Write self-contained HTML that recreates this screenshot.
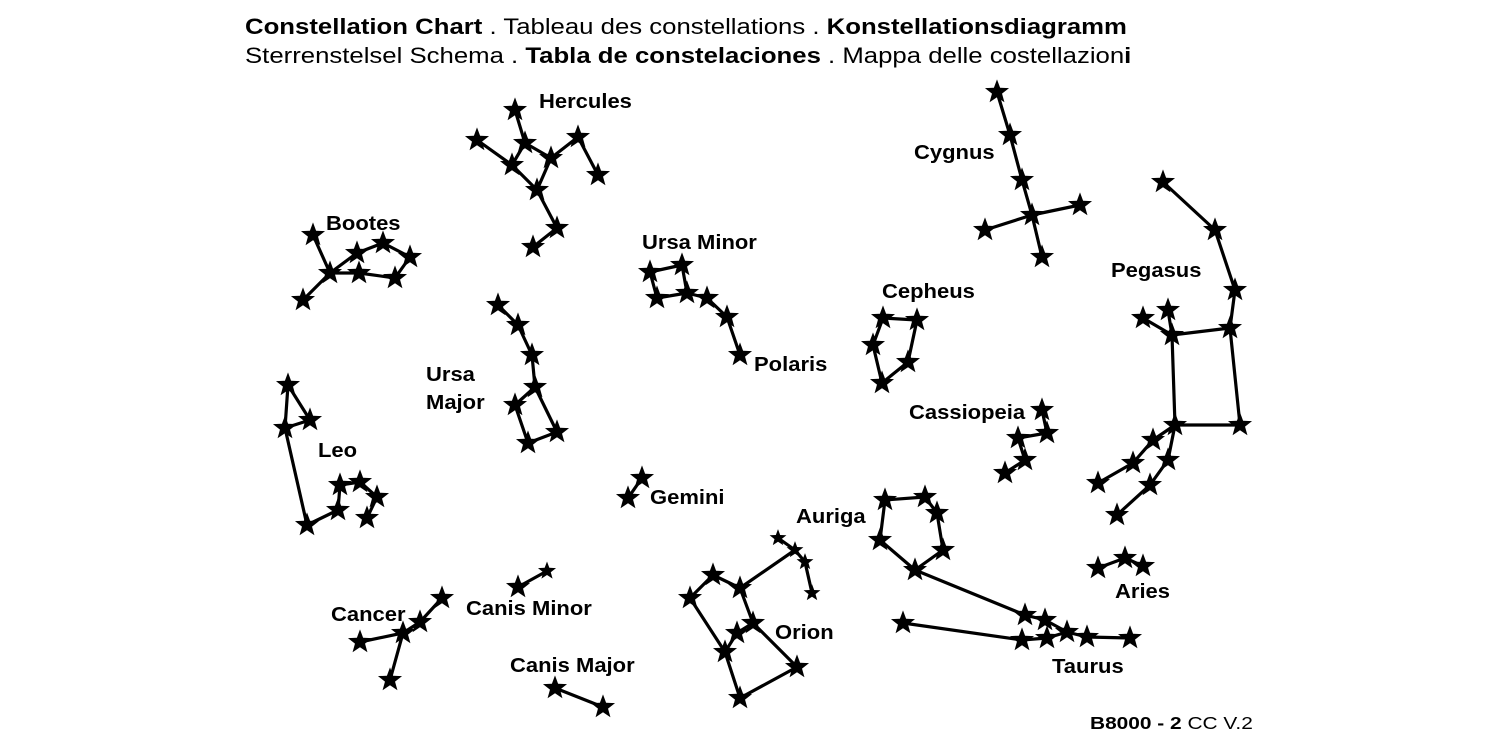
<!DOCTYPE html>
<html><head><meta charset="utf-8"><style>
html,body{margin:0;padding:0;background:#fff;}
body{width:1500px;height:750px;overflow:hidden;position:relative;font-family:"Liberation Sans",Arial,sans-serif;}
</style></head><body>
<svg width="1500" height="750" style="position:absolute;left:0;top:0" xmlns="http://www.w3.org/2000/svg">
<defs><path id="s" d="M0,-12.65 L3.1,-4.28 L12.03,-3.91 L5.03,1.63 L7.44,10.24 L0,5.29 L-7.44,10.24 L-5.03,1.63 L-12.03,-3.91 L-3.1,-4.28Z" fill="#000"/></defs>
<g font-family="Liberation Sans, Arial, sans-serif" font-size="22" fill="#000">
<text transform="translate(245 34) scale(1.17 1)"><tspan font-weight="bold">Constellation Chart</tspan> . Tableau des constellations . <tspan font-weight="bold">Konstellationsdiagramm</tspan></text>
<text transform="translate(245 63) scale(1.17 1)">Sterrenstelsel Schema . <tspan font-weight="bold">Tabla de constelaciones</tspan> . Mappa delle costellazion<tspan font-weight="bold">i</tspan></text>
</g>
<g stroke="#000" stroke-width="3.2" fill="none" stroke-linejoin="round">
<polyline points="515,110 525,143 551,158 578,137 598,175"/>
<polyline points="477,140 512,165 537,190 557,228 533,247"/>
<polyline points="525,143 512,165"/><polyline points="551,158 537,190"/>
<polyline points="313,235 330,273 357,253 383,243 410,257 395,278 359,273 330,273 303,300"/>
<polyline points="288,385 310,420 285,428 288,385"/>
<polyline points="285,428 307,525 338,510 340,485 360,482 377,497 367,518"/>
<polyline points="498,305 518,325 532,355 535,387 515,405 528,443 557,432 535,387"/>
<polyline points="650,272 682,265 687,293 657,298 650,272"/>
<polyline points="687,293 707,298 727,317 740,355"/>
<polyline points="642,478 628,498"/>
<polyline points="883,318 917,320 908,362 882,383 873,345 883,318"/>
<polyline points="1042,410 1047,433 1018,438 1025,460 1005,473"/>
<polyline points="1163,182 1215,230 1235,290 1230,328 1240,425 1175,425 1172,335 1230,328"/>
<polyline points="1168,310 1172,335 1143,318"/>
<polyline points="1175,425 1153,440 1133,463 1098,483"/>
<polyline points="1175,425 1168,460 1150,485 1117,515"/>
<polyline points="997,92 1010,135 1022,180 1032,215 1042,257"/>
<polyline points="985,230 1032,215 1080,205"/>
<polyline points="442,598 420,622 403,633 390,680"/>
<polyline points="360,642 403,633"/>
<polyline points="518,587 547,571"/>
<polyline points="555,688 603,707"/>
<polyline points="690,598 713,575 740,588 795,550"/>
<polyline points="778,538 795,550 805,562 812,593"/>
<polyline points="690,598 725,652 740,698 797,667 753,623 740,588"/>
<polyline points="725,652 737,633 753,623"/>
<polyline points="885,500 925,497 937,513 943,550 915,570 880,540 885,500"/>
<polyline points="915,570 1025,615 1045,620 1067,632"/>
<polyline points="903,623 1022,640 1047,638 1067,632 1087,637 1130,638"/>
<polyline points="1098,568 1125,558 1143,566"/>
</g>
<g>
<use href="#s" x="515" y="110"/><use href="#s" x="525" y="143"/><use href="#s" x="551" y="158"/><use href="#s" x="578" y="137"/><use href="#s" x="598" y="175"/><use href="#s" x="477" y="140"/><use href="#s" x="512" y="165"/><use href="#s" x="537" y="190"/><use href="#s" x="557" y="228"/><use href="#s" x="533" y="247"/>
<use href="#s" x="313" y="235"/><use href="#s" x="330" y="273"/><use href="#s" x="357" y="253"/><use href="#s" x="383" y="243"/><use href="#s" x="410" y="257"/><use href="#s" x="395" y="278"/><use href="#s" x="359" y="273"/><use href="#s" x="303" y="300"/>
<use href="#s" x="288" y="385"/><use href="#s" x="310" y="420"/><use href="#s" x="285" y="428"/><use href="#s" x="307" y="525"/><use href="#s" x="338" y="510"/><use href="#s" x="340" y="485"/><use href="#s" x="360" y="482"/><use href="#s" x="377" y="497"/><use href="#s" x="367" y="518"/>
<use href="#s" x="498" y="305"/><use href="#s" x="518" y="325"/><use href="#s" x="532" y="355"/><use href="#s" x="535" y="387"/><use href="#s" x="515" y="405"/><use href="#s" x="528" y="443"/><use href="#s" x="557" y="432"/>
<use href="#s" x="650" y="272"/><use href="#s" x="682" y="265"/><use href="#s" x="687" y="293"/><use href="#s" x="657" y="298"/><use href="#s" x="707" y="298"/><use href="#s" x="727" y="317"/><use href="#s" x="740" y="355"/>
<use href="#s" x="642" y="478"/><use href="#s" x="628" y="498"/>
<use href="#s" x="883" y="318"/><use href="#s" x="917" y="320"/><use href="#s" x="908" y="362"/><use href="#s" x="882" y="383"/><use href="#s" x="873" y="345"/>
<use href="#s" x="1042" y="410"/><use href="#s" x="1047" y="433"/><use href="#s" x="1018" y="438"/><use href="#s" x="1025" y="460"/><use href="#s" x="1005" y="473"/>
<use href="#s" x="1163" y="182"/><use href="#s" x="1215" y="230"/><use href="#s" x="1235" y="290"/><use href="#s" x="1230" y="328"/><use href="#s" x="1240" y="425"/><use href="#s" x="1175" y="425"/><use href="#s" x="1172" y="335"/><use href="#s" x="1168" y="310"/><use href="#s" x="1143" y="318"/><use href="#s" x="1153" y="440"/><use href="#s" x="1133" y="463"/><use href="#s" x="1098" y="483"/><use href="#s" x="1168" y="460"/><use href="#s" x="1150" y="485"/><use href="#s" x="1117" y="515"/>
<use href="#s" x="997" y="92"/><use href="#s" x="1010" y="135"/><use href="#s" x="1022" y="180"/><use href="#s" x="1032" y="215"/><use href="#s" x="1042" y="257"/><use href="#s" x="985" y="230"/><use href="#s" x="1080" y="205"/>
<use href="#s" x="442" y="598"/><use href="#s" x="420" y="622"/><use href="#s" x="403" y="633"/><use href="#s" x="390" y="680"/><use href="#s" x="360" y="642"/>
<use href="#s" x="518" y="587"/><g transform="translate(547 571) scale(.75)"><use href="#s"/></g>
<use href="#s" x="555" y="688"/><use href="#s" x="603" y="707"/>
<use href="#s" x="690" y="598"/><use href="#s" x="713" y="575"/><use href="#s" x="740" y="588"/><use href="#s" x="753" y="623"/><use href="#s" x="737" y="633"/><use href="#s" x="725" y="652"/><use href="#s" x="740" y="698"/><use href="#s" x="797" y="667"/>
<g transform="translate(778 538) scale(.7)"><use href="#s"/></g><g transform="translate(795 550) scale(.7)"><use href="#s"/></g><g transform="translate(805 562) scale(.7)"><use href="#s"/></g><g transform="translate(812 593) scale(.7)"><use href="#s"/></g>
<use href="#s" x="885" y="500"/><use href="#s" x="925" y="497"/><use href="#s" x="937" y="513"/><use href="#s" x="943" y="550"/><use href="#s" x="915" y="570"/><use href="#s" x="880" y="540"/>
<use href="#s" x="1025" y="615"/><use href="#s" x="1045" y="620"/><use href="#s" x="1067" y="632"/><use href="#s" x="1087" y="637"/><use href="#s" x="1130" y="638"/><use href="#s" x="903" y="623"/><use href="#s" x="1022" y="640"/><use href="#s" x="1047" y="638"/>
<use href="#s" x="1098" y="568"/><use href="#s" x="1125" y="558"/><use href="#s" x="1143" y="566"/>
</g>
<g font-family="Liberation Sans, Arial, sans-serif" font-weight="bold" font-size="20" fill="#000">
<text transform="translate(539 108) scale(1.1 1)">Hercules</text>
<text transform="translate(326 230) scale(1.1 1)">Bootes</text>
<text transform="translate(642 249) scale(1.1 1)">Ursa Minor</text>
<text transform="translate(914 159) scale(1.1 1)">Cygnus</text>
<text transform="translate(1111 277) scale(1.1 1)">Pegasus</text>
<text transform="translate(882 298) scale(1.1 1)">Cepheus</text>
<text transform="translate(754 371) scale(1.1 1)">Polaris</text>
<text transform="translate(426 381) scale(1.1 1)">Ursa</text>
<text transform="translate(426 409) scale(1.1 1)">Major</text>
<text transform="translate(318 457) scale(1.1 1)">Leo</text>
<text transform="translate(909 419) scale(1.1 1)">Cassiopeia</text>
<text transform="translate(650 504) scale(1.1 1)">Gemini</text>
<text transform="translate(796 523) scale(1.1 1)">Auriga</text>
<text transform="translate(331 621) scale(1.1 1)">Cancer</text>
<text transform="translate(466 615) scale(1.1 1)">Canis Minor</text>
<text transform="translate(775 639) scale(1.1 1)">Orion</text>
<text transform="translate(510 672) scale(1.1 1)">Canis Major</text>
<text transform="translate(1052 673) scale(1.1 1)">Taurus</text>
<text transform="translate(1115 598) scale(1.1 1)">Aries</text>
</g>
<text transform="translate(1090 729) scale(1.16 1)" font-family="Liberation Sans, Arial, sans-serif" font-size="18" fill="#000"><tspan font-weight="bold">B8000 - 2</tspan> CC V.2</text>
</svg>
</body></html>
